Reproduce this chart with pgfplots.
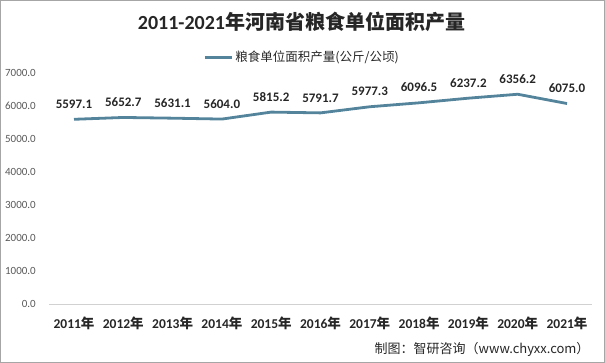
\documentclass[border=0pt]{standalone}
\usepackage{pgfplots}
\pgfplotsset{compat=1.18}
\usepackage{fontspec}
\setmainfont{Carlito}
\newfontfamily\cjk{Noto Sans CJK SC}
\definecolor{linec}{RGB}{84,132,155}
\definecolor{tickc}{RGB}{89,89,89}
\newcommand\yr[1]{#1{\cjk 年}}
\begin{document}
\begin{tikzpicture}[x=1pt,y=1pt]
\useasboundingbox (0,0) rectangle (605,363);
\draw[gray!70, line width=1pt] (0.5,0.5) rectangle (604.5,362.5);
\node[font=\bfseries\fontsize{20}{22}\selectfont, text=black!85] at (301.5,341) {2011-2021{\cjk 年河南省粮食单位面积产量}};
\node[font=\fontsize{13}{14}\selectfont\cjk, text=black!85, anchor=east] at (593,14) {制图：智研咨询（www.chyxx.com）};
\begin{axis}[
  at={(49.35pt,59pt)}, anchor=south west,
  scale only axis, width=542.3pt, height=231pt,
  xmin=-0.5, xmax=10.5, ymin=0, ymax=7000,
  xtick={0,...,10},
  xticklabels={\yr{2011},\yr{2012},\yr{2013},\yr{2014},\yr{2015},\yr{2016},\yr{2017},\yr{2018},\yr{2019},\yr{2020},\yr{2021}},
  ytick={0,1000,...,7000},
  axis lines*=left,
  x axis line style={draw=black!18, line width=0.8pt, -},
  y axis line style={draw=none},
  major tick length=0pt,
  yticklabel style={font=\fontsize{11}{12}\selectfont, text=tickc, xshift=-10pt},
  yticklabel={\pgfmathprintnumber[fixed,zerofill,precision=1,1000 sep={},assume math mode=true]{\tick}},
  scaled y ticks=false,
  xticklabel style={font=\bfseries\fontsize{13.5}{14}\selectfont, text=black!85, yshift=-9pt},
  clip=false,
  legend style={at={(0.466,1.069)}, anchor=center, draw=none, fill=none, font=\fontsize{12.5}{13}\selectfont\cjk, text=black!85},
  legend image code/.code={\draw[#1, line width=3pt] (0pt,0pt) -- (27pt,0pt);},
  nodes near coords={\pgfmathprintnumber[fixed,zerofill,precision=1,1000 sep={},assume math mode=true]{\pgfplotspointmeta}},
  every node near coord/.append style={font=\bfseries\fontsize{13}{14}\selectfont, text=black!85, yshift=6pt},
]
\addplot[color=linec, line width=2.8pt, mark=none] coordinates {
(0,5597.1) (1,5652.7) (2,5631.1) (3,5604.0) (4,5815.2) (5,5791.7) (6,5977.3) (7,6096.5) (8,6237.2) (9,6356.2) (10,6075.0)
};
\addlegendentry{粮食单位面积产量(公斤/公顷)}
\end{axis}
\end{tikzpicture}
\end{document}
